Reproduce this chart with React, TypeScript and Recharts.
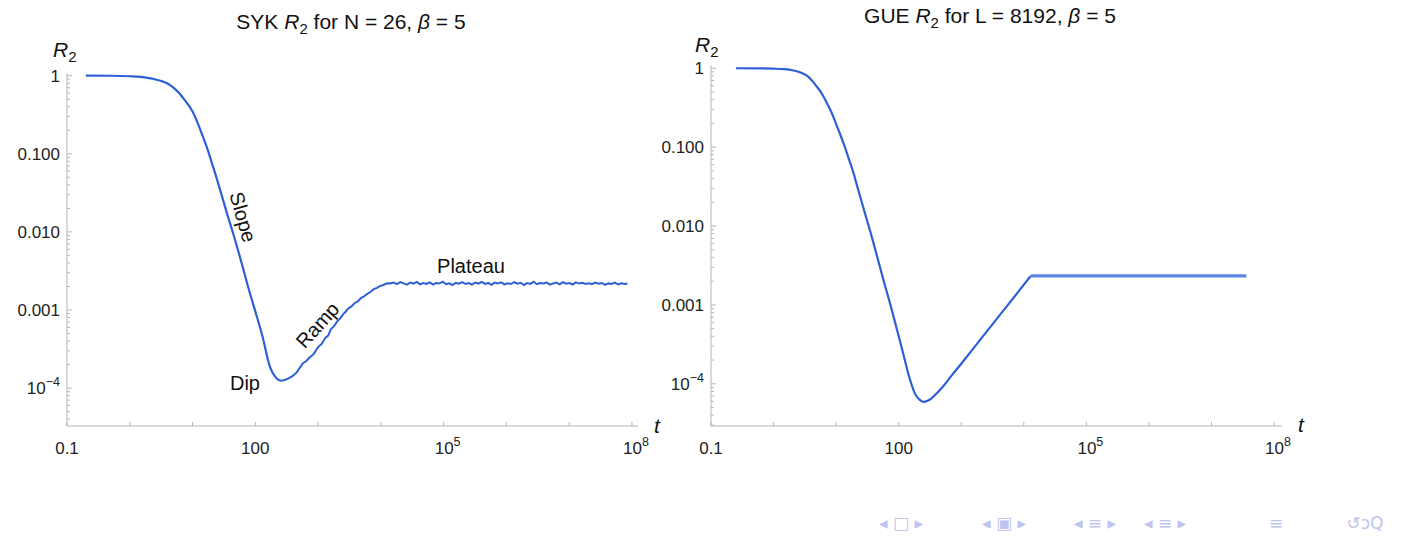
import React from 'react';
import { LineChart, Line, XAxis, YAxis } from 'recharts';

// SYK R2, N = 26, beta = 5 : smooth fall from 1 down to the dip
const sykT = [0.2, 0.5, 1, 1.5, 2, 2.5, 3, 4, 5, 6, 7, 8.5, 10, 12, 14, 17, 20, 24, 27, 35, 45, 60, 80, 100, 130, 170, 210, 240, 260];
const sykR = [1, 0.998, 0.984, 0.964, 0.933, 0.902, 0.867, 0.794, 0.7, 0.61, 0.525, 0.427, 0.347, 0.251, 0.182, 0.12, 0.0794, 0.05, 0.0363, 0.0178, 0.0092, 0.0041, 0.00176, 0.00096, 0.00046, 0.00019, 0.000138, 0.000126, 0.000124];

// noisy ramp after the dip
const sykRampT = [260, 300, 340, 400, 460, 520, 575, 650, 740, 850, 1000, 1150, 1300, 1450, 1600, 1800, 2000, 2250, 2500, 2750, 3000, 3400, 3800, 4300, 4800, 5400, 6000, 6800, 7700, 8700, 9800, 11000, 12500, 14000];
const sykRampR = [0.000124, 0.000128, 0.000133, 0.000144, 0.00016, 0.000186, 0.000208, 0.000222, 0.000248, 0.000272, 0.000335, 0.00037, 0.00044, 0.00047, 0.00057, 0.00062, 0.00071, 0.00078, 0.00088, 0.00095, 0.00104, 0.00111, 0.00122, 0.00129, 0.00142, 0.00149, 0.0016, 0.0017, 0.00185, 0.00192, 0.00204, 0.00209, 0.0022, 0.00218];

// plateau
const sykPlateauT = [
  16000, 18000, 20500, 23000, 26000, 29500, 33000, 37500, 42000, 47500,
  53500, 60000, 68000, 76000, 86000, 97000, 110000, 123000, 139000, 156000,
  176000, 198000, 223000, 251000, 283000, 319000, 359000, 405000, 456000, 513000,
  578000, 651000, 733000, 826000, 930000, 1050000, 1180000, 1330000, 1500000, 1690000,
  1900000, 2140000, 2410000, 2720000, 3060000, 3450000, 3890000, 4380000, 4930000, 5560000,
  6260000, 7050000, 7940000, 8950000, 10100000, 11400000, 12800000, 14400000, 16200000, 18300000,
  20600000, 23200000, 26100000, 29400000, 33200000, 37400000, 42100000, 47400000, 53400000, 60200000,
  67800000, 76400000, 85000000,
];
const sykPlateauR = [
  0.00225, 0.00214, 0.00228, 0.00219, 0.00211, 0.00224, 0.00217, 0.00229, 0.00213, 0.00221,
  0.00216, 0.00226, 0.00212, 0.00222, 0.00218, 0.00231, 0.00214, 0.0022, 0.00209, 0.00223,
  0.00217, 0.00227, 0.00215, 0.00221, 0.00212, 0.00225, 0.00218, 0.00229, 0.00216, 0.00222,
  0.0021, 0.00224, 0.00219, 0.00226, 0.00213, 0.0022, 0.00215, 0.00228, 0.00217, 0.00223,
  0.00208, 0.00221, 0.00216, 0.0023, 0.00214, 0.00222, 0.00218, 0.00225, 0.00211, 0.00219,
  0.00224, 0.00213, 0.00227, 0.00217, 0.00221, 0.00212, 0.00226, 0.00218, 0.00223, 0.00215,
  0.0022, 0.00214, 0.00225, 0.00217, 0.00222, 0.0021, 0.00219, 0.00216, 0.00224, 0.00213,
  0.0022, 0.00215, 0.00218,
];

// GUE R2, L = 8192, beta = 5
const gueT = [0.25, 0.6, 1, 1.5, 2, 2.5, 3, 3.5, 4.15, 5, 6, 7, 8, 9.5, 11, 13.2, 16, 19, 21.8, 28, 35.8, 46, 59, 76, 97, 120, 147, 187, 220, 250, 290, 338, 400, 508, 700, 1000, 2000, 4000, 8000, 12900];
const gueR = [1, 0.998, 0.989, 0.973, 0.944, 0.902, 0.851, 0.794, 0.692, 0.575, 0.468, 0.372, 0.302, 0.219, 0.162, 0.111, 0.0708, 0.0468, 0.0316, 0.0158, 0.0081, 0.0039, 0.00188, 0.00092, 0.00044, 0.00023, 0.000123, 0.000072, 0.000062, 0.000059, 0.000061, 0.000066, 0.000075, 0.000092, 0.000127, 0.00018, 0.00036, 0.00072, 0.00144, 0.00233];
const guePlateauT = [12900, 36000000];
const guePlateauR = [0.00233, 0.00233];

// axis ticks
const xTicks = [0.1, 1, 10, 100, 1e3, 1e4, 1e5, 1e6, 1e7, 1e8];
const xLabels = ['0.1', '', '', '100', '', '', '10^5', '', '', '10^8'];
const yMajor = [1e-4, 0.001, 0.01, 0.1, 1];
const yLabels = ['10^−4', '0.001', '0.010', '0.100', '1'];

const BLUE = '#2f5fd7';
const AXIS = '#b5b5b5';
const FONT = '"Liberation Sans", Arial, sans-serif';
const Y_AXIS_W = 60;
const X_AXIS_H = 30;

const zip = (ts: number[], rs: number[]) => ts.map((t, i) => ({ t, r: rs[i] }));

const yTicksFor = (lo: number, hi: number) => {
  const out: number[] = [...yMajor];
  [1e-5, 1e-4, 1e-3, 1e-2, 1e-1].forEach((d) => {
    for (let k = 2; k <= 9; k++) out.push(d * k);
  });
  return out.filter((v) => v >= lo && v <= hi).sort((a, b) => a - b);
};

const PowLabel = ({ x, y, text, anchor }: { x: number; y: number; text: string; anchor: string }) => {
  const [base, exp] = text.split('^');
  return (
    <text x={x} y={y} textAnchor={anchor} fontSize={17} fill="#222" fontFamily={FONT}>
      {base}
      {exp && (
        <tspan fontSize={12.5} dy={-8}>
          {exp}
        </tspan>
      )}
    </text>
  );
};

const XTick = (props: any) => {
  const { x, y, payload } = props;
  const label = xLabels[xTicks.indexOf(payload.value)];
  return (
    <g>
      <line x1={x} y1={y} x2={x} y2={y - 4} stroke={AXIS} />
      {label ? <PowLabel x={x + (label.includes('^') ? 4 : 0)} y={y + 28} text={label} anchor="middle" /> : null}
    </g>
  );
};

const YTick = (props: any) => {
  const { x, y, payload } = props;
  const idx = yMajor.indexOf(payload.value);
  return (
    <g>
      <line x1={x} y1={y} x2={x + (idx >= 0 ? 5 : 3)} y2={y} stroke={AXIS} />
      {idx >= 0 ? <PowLabel x={x - 7} y={y + 6} text={yLabels[idx]} anchor="end" /> : null}
    </g>
  );
};

interface PanelProps {
  left: number;
  width: number;
  margin: { top: number; right: number; bottom: number; left: number };
  xDomain: [number, number];
  yDomain: [number, number];
  children: React.ReactNode;
}

// margin here is the plot-area inset; axis sizes are taken back out of it
const Panel = ({ left, width, margin, xDomain, yDomain, children }: PanelProps) => (
  <div style={{ position: 'absolute', left, top: 0 }}>
    <LineChart
      width={width}
      height={536}
      margin={{ top: margin.top, right: margin.right, bottom: margin.bottom - X_AXIS_H, left: margin.left - Y_AXIS_W }}
    >
      <XAxis
        type="number"
        dataKey="t"
        scale="log"
        domain={xDomain}
        allowDataOverflow
        ticks={xTicks}
        interval={0}
        height={X_AXIS_H}
        tickSize={0}
        tickMargin={0}
        tickLine={false}
        stroke={AXIS}
        tick={<XTick />}
      />
      <YAxis
        type="number"
        dataKey="r"
        scale="log"
        domain={yDomain}
        allowDataOverflow
        ticks={yTicksFor(yDomain[0], yDomain[1])}
        interval={0}
        width={Y_AXIS_W}
        tickSize={0}
        tickMargin={0}
        tickLine={false}
        stroke={AXIS}
        tick={<YTick />}
      />
      {children}
    </LineChart>
  </div>
);

const R2 = ({ x, y }: { x: number; y: number }) => (
  <text x={x} y={y} fontSize={21} fontFamily={FONT} fill="#111">
    <tspan fontStyle="italic">R</tspan>
    <tspan fontSize={15} dy={5}>2</tspan>
  </text>
);

export default function App() {
  return (
    <div style={{ position: 'absolute', left: 0, top: 0, width: 1406, height: 536, background: '#fff', overflow: 'hidden' }}>
      <Panel
        left={0}
        width={700}
        margin={{ top: 73, right: 62, bottom: 110, left: 67 }}
        xDomain={[0.1, 1.25e8]}
        yDomain={[3.27e-5, 1.083]}
      >
        <Line data={zip(sykT, sykR)} dataKey="r" type="monotone" stroke={BLUE} strokeWidth={2.2} dot={false} isAnimationActive={false} />
        <Line
          data={zip(sykRampT.concat(sykPlateauT), sykRampR.concat(sykPlateauR))}
          dataKey="r"
          type="linear"
          stroke={BLUE}
          strokeWidth={2}
          dot={false}
          isAnimationActive={false}
        />
      </Panel>
      <Panel
        left={640}
        width={766}
        margin={{ top: 65, right: 124, bottom: 110, left: 71 }}
        xDomain={[0.1, 1.34e8]}
        yDomain={[2.92e-5, 1.1]}
      >
        <Line data={zip(gueT, gueR)} dataKey="r" type="monotone" stroke={BLUE} strokeWidth={2.2} dot={false} isAnimationActive={false} />
        <Line data={zip(guePlateauT, guePlateauR)} dataKey="r" type="linear" stroke="#5a85e6" strokeWidth={3.2} dot={false} isAnimationActive={false} />
      </Panel>

      <svg width={1406} height={536} style={{ position: 'absolute', left: 0, top: 0, pointerEvents: 'none' }}>
        <g fontFamily={FONT} fill="#111" fontSize={21}>
          <text x={351} y={29} textAnchor="middle">
            {'SYK '}
            <tspan fontStyle="italic">R</tspan>
            <tspan fontSize={15} dy={5}>2</tspan>
            <tspan dy={-5}>{' for N = 26, '}</tspan>
            <tspan fontStyle="italic">β</tspan>
            {' = 5'}
          </text>
          <text x={990} y={23} textAnchor="middle">
            {'GUE '}
            <tspan fontStyle="italic">R</tspan>
            <tspan fontSize={15} dy={5}>2</tspan>
            <tspan dy={-5}>{' for L = 8192, '}</tspan>
            <tspan fontStyle="italic">β</tspan>
            {' = 5'}
          </text>
        </g>
        <g fontFamily={FONT} fill="#111" fontSize={20}>
          <text x={243} y={217} textAnchor="middle" dominantBaseline="central" transform="rotate(74 243 217)">Slope</text>
          <text x={317.5} y={325} textAnchor="middle" dominantBaseline="central" transform="rotate(-48 317.5 325)">Ramp</text>
          <text x={245} y={383} textAnchor="middle" dominantBaseline="central">Dip</text>
          <text x={471} y={266} textAnchor="middle" dominantBaseline="central">Plateau</text>

          <text x={654} y={433} fontStyle="italic" fontSize={21}>t</text>
          <text x={1298} y={432} fontStyle="italic" fontSize={21}>t</text>
        </g>
        <R2 x={53} y={57} />
        <R2 x={695} y={51.5} />

        <g fontFamily='"DejaVu Sans", sans-serif' fontSize={17} fill="#bfc3ef" textAnchor="middle">
          <text x={901} y={529}>◂ □ ▸</text>
          <text x={1004} y={529}>◂ ▣ ▸</text>
          <text x={1095} y={529}>◂ ≡ ▸</text>
          <text x={1165} y={529}>◂ ≡ ▸</text>
          <text x={1276} y={529}>≡</text>
          <text x={1365} y={529}>↺ᴐQ</text>
        </g>
      </svg>
    </div>
  );
}
